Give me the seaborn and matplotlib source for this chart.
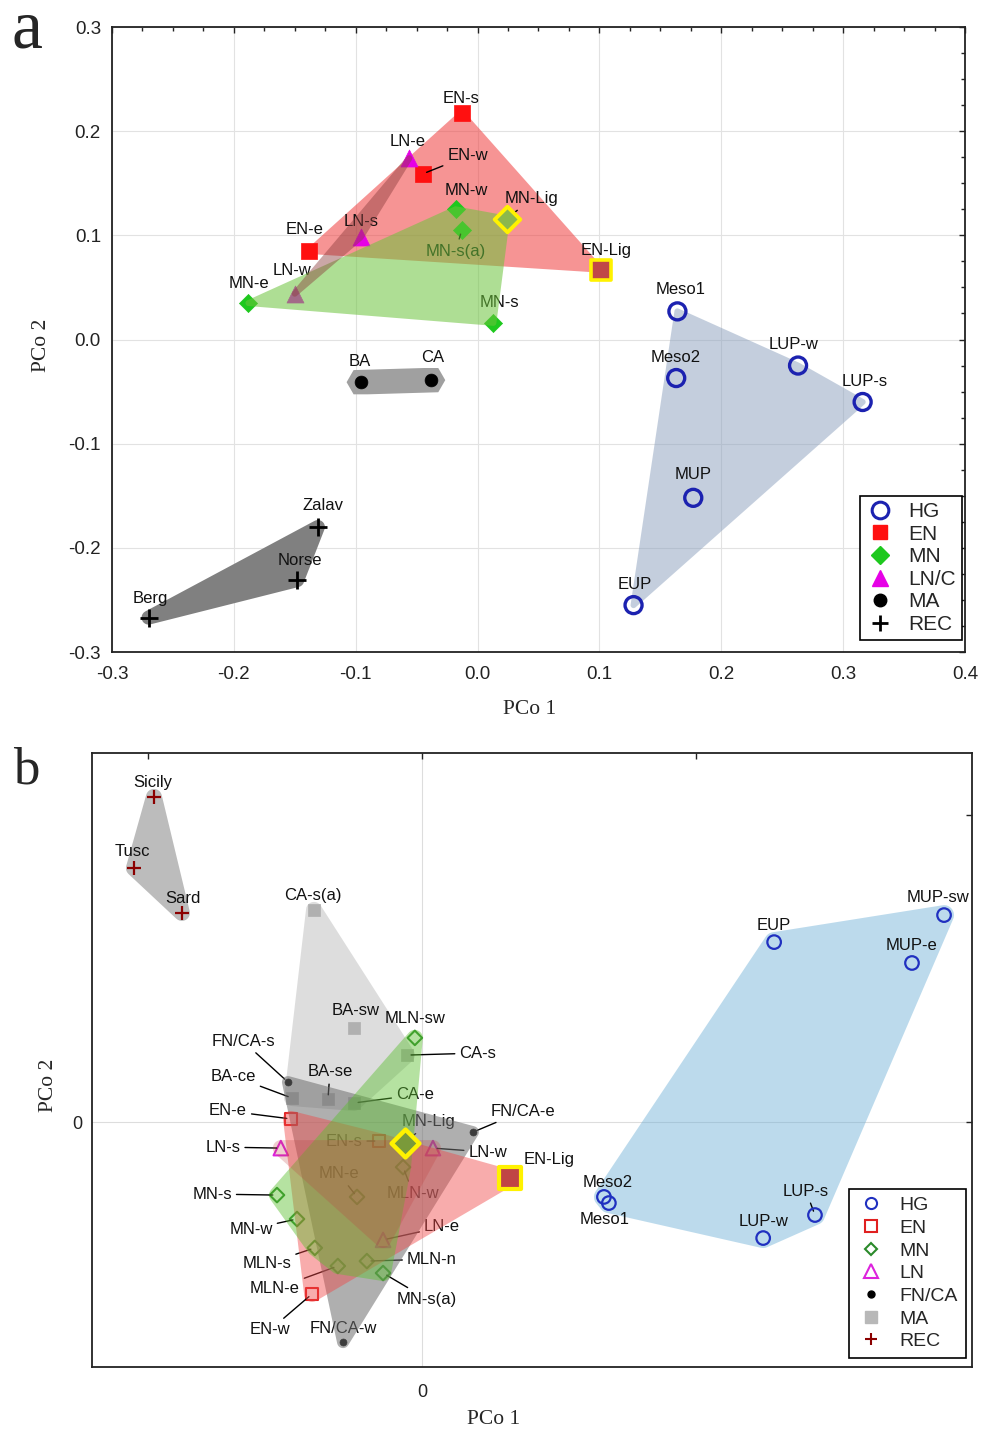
import numpy as np
import pandas as pd
import seaborn as sns
import matplotlib.pyplot as plt
from matplotlib.lines import Line2D
from matplotlib.ticker import MultipleLocator, FuncFormatter, FixedLocator

sns.set_style("white")
plt.rcParams['font.family'] = ['Liberation Sans', 'DejaVu Sans']
plt.rcParams['axes.unicode_minus'] = False

# ---------------- panel a data ----------------
a_hg_names = ['Meso1', 'Meso2', 'LUP-w', 'LUP-s', 'MUP', 'EUP']
a_hg_x = [0.164, 0.163, 0.263, 0.316, 0.177, 0.128]
a_hg_y = [0.027, -0.037, -0.025, -0.060, -0.152, -0.255]

a_en_names = ['EN-s', 'EN-w', 'EN-e', 'EN-Lig']
a_en_x = [-0.013, -0.045, -0.138, 0.101]
a_en_y = [0.217, 0.159, 0.085, 0.067]

a_mn_names = ['MN-w', 'MN-s(a)', 'MN-Lig', 'MN-e', 'MN-s']
a_mn_x = [-0.018, -0.013, 0.024, -0.188, 0.013]
a_mn_y = [0.125, 0.105, 0.116, 0.035, 0.016]

a_ln_names = ['LN-e', 'LN-s', 'LN-w']
a_ln_x = [-0.056, -0.096, -0.150]
a_ln_y = [0.174, 0.098, 0.044]

a_ma_names = ['BA', 'CA']
a_ma_x = [-0.096, -0.038]
a_ma_y = [-0.041, -0.039]

a_rec_names = ['Zalav', 'Norse', 'Berg']
a_rec_x = [-0.131, -0.148, -0.270]
a_rec_y = [-0.180, -0.231, -0.267]

a_legend_labels = ['HG', 'EN', 'MN', 'LN/C', 'MA', 'REC']

# ---------------- panel b data ----------------
b_hg_names = ['EUP', 'MUP-sw', 'MUP-e', 'Meso2', 'Meso1', 'LUP-s', 'LUP-w']
b_hg_x = [0.1285, 0.1905, 0.1788, 0.0664, 0.0682, 0.1434, 0.1245]
b_hg_y = [0.0586, 0.0674, 0.0518, -0.0244, -0.0264, -0.0303, -0.0378]

b_en_names = ['EN-e', 'EN-s', 'EN-Lig', 'EN-w']
b_en_x = [-0.0478, -0.0157, 0.0321, -0.0401]
b_en_y = [0.0010, -0.0062, -0.0182, -0.0560]

b_mn_names = ['MLN-sw', 'MN-Lig', 'MLN-w', 'MN-e', 'MN-s', 'MN-w',
              'MLN-s', 'MLN-n', 'MN-s(a)', 'MLN-e']
b_mn_x = [-0.0026, -0.0062, -0.0069, -0.0237, -0.0529, -0.0456,
          -0.0391, -0.0201, -0.0142, -0.0307]
b_mn_y = [0.0274, -0.0068, -0.0147, -0.0244, -0.0238, -0.0316,
          -0.0410, -0.0453, -0.0492, -0.0469]

b_ln_names = ['LN-s', 'LN-w', 'LN-e']
b_ln_x = [-0.0515, 0.0040, -0.0142]
b_ln_y = [-0.0085, -0.0085, -0.0384]

b_fnca_names = ['FN/CA-s', 'FN/CA-e', 'FN/CA-w']
b_fnca_x = [-0.0489, 0.0186, -0.0288]
b_fnca_y = [0.0130, -0.0033, -0.0717]

b_ma_names = ['CA-s(a)', 'BA-sw', 'CA-s', 'BA-ce', 'BA-se', 'CA-e']
b_ma_x = [-0.0394, -0.0248, -0.0055, -0.0474, -0.0343, -0.0248]
b_ma_y = [0.0691, 0.0306, 0.0218, 0.0078, 0.0075, 0.0062]

b_rec_names = ['Sicily', 'Tusc', 'Sard']
b_rec_x = [-0.0978, -0.1051, -0.0876]
b_rec_y = [0.1059, 0.0827, 0.0681]

b_legend_labels = ['HG', 'EN', 'MN', 'LN', 'FN/CA', 'MA', 'REC']

# label placement (pixel offsets from the point) and which ones get a leader line
a_offsets = {'EN-s': (-1, 15), 'EN-w': (45, 18), 'EN-e': (-5, 21), 'EN-Lig': (5, 19),
             'LN-e': (-2, 17), 'LN-s': (1, 16), 'LN-w': (-3, 23), 'MN-w': (11, 19),
             'MN-s(a)': (-6, -21), 'MN-Lig': (25, 20), 'MN-e': (0, 20), 'MN-s': (6, 20),
             'BA': (-1, 21), 'CA': (1, 23), 'Zalav': (5, 21), 'Norse': (3, 20),
             'Berg': (2, 19), 'Meso1': (3, 22), 'Meso2': (-1, 21), 'LUP-w': (-4, 21),
             'LUP-s': (2, 21), 'MUP': (0, 23), 'EUP': (1, 21)}
a_leaders = {'EN-w', 'MN-s(a)', 'MN-Lig'}

b_offsets = {'Sicily': (-1, 14), 'Tusc': (-2, 17), 'Sard': (1, 14), 'CA-s(a)': (-1, 14),
             'BA-sw': (2, 18), 'MLN-sw': (0, 19), 'CA-s': (71, 2), 'FN/CA-s': (-45, 41),
             'BA-ce': (-59, 22), 'BA-se': (2, 27), 'CA-e': (61, 8), 'EN-e': (-63, 8),
             'FN/CA-e': (50, 21), 'MN-Lig': (24, 21), 'EN-s': (-35, 0), 'LN-s': (-58, 1),
             'LN-w': (55, -4), 'EN-Lig': (39, 18), 'MN-e': (-18, 23), 'MLN-w': (10, -26),
             'MN-s': (-65, 1), 'MN-w': (-46, -10), 'LN-e': (59, 13), 'MLN-s': (-48, -16),
             'MLN-n': (65, 2), 'MLN-e': (-63, -23), 'MN-s(a)': (44, -26), 'EN-w': (-42, -36),
             'FN/CA-w': (0, 14), 'EUP': (0, 17), 'MUP-sw': (-6, 18), 'MUP-e': (0, 17),
             'Meso2': (4, 14), 'Meso1': (-4, -16), 'LUP-s': (-9, 24), 'LUP-w': (0, 17)}
b_leaders = {'CA-s', 'FN/CA-s', 'BA-ce', 'BA-se', 'CA-e', 'EN-e', 'FN/CA-e', 'MN-Lig',
             'EN-s', 'LN-s', 'LN-w', 'MN-e', 'MLN-w', 'MN-s', 'MN-w', 'LN-e', 'MLN-s',
             'MLN-n', 'MLN-e', 'MN-s(a)', 'EN-w', 'LUP-s'}


def convex_hull(pts):
    pts = sorted(map(tuple, pts))

    def cross(o, a, b):
        return (a[0] - o[0]) * (b[1] - o[1]) - (a[1] - o[1]) * (b[0] - o[0])
    lower, upper = [], []
    for p in pts:
        while len(lower) >= 2 and cross(lower[-2], lower[-1], p) <= 0:
            lower.pop()
        lower.append(p)
    for p in reversed(pts):
        while len(upper) >= 2 and cross(upper[-2], upper[-1], p) <= 0:
            upper.pop()
        upper.append(p)
    return np.array(lower[:-1] + upper[:-1])


def padded_hull(ax, xs, ys, pad, n=24):
    pts = ax.transData.transform(np.column_stack([xs, ys]))
    ang = np.linspace(0, 2 * np.pi, n, endpoint=False)
    ring = (pts[:, None, :] + pad * np.stack([np.cos(ang), np.sin(ang)], axis=1)[None]).reshape(-1, 2)
    return ax.transData.inverted().transform(convex_hull(ring))


def draw_group(ax, names, xs, ys, st, offsets, leaders, fs):
    df = pd.DataFrame({'x': xs, 'y': ys, 'name': names})
    reg = df[~df['name'].str.endswith('Lig')]
    lig = df[df['name'].str.endswith('Lig')]
    kw = dict(marker=st['marker'], s=st['s'], color=st['ec'], edgecolor=st['ec'],
              linewidth=st['lw'], zorder=st.get('z', 2), legend=False, ax=ax)
    if st['marker'] != '+':
        kw['facecolor'] = st['fc']
    sns.scatterplot(data=reg, x='x', y='y', **kw)
    if len(lig):
        sns.scatterplot(data=lig, x='x', y='y', marker=st['marker'], s=st['lig_s'],
                        color=st['lig_fc'], facecolor=st['lig_fc'], edgecolor='#fff200',
                        linewidth=st['lig_lw'], zorder=5, legend=False, ax=ax)
    for n, x, y in zip(names, xs, ys):
        dx, dy = offsets[n]
        arrow = dict(arrowstyle='-', color='black', lw=1.0, shrinkA=1, shrinkB=3) if n in leaders else None
        ax.annotate(n, xy=(x, y), xytext=(dx, dy), textcoords='offset pixels',
                    ha='center', va='center', fontsize=fs, color='#111111',
                    zorder=2, arrowprops=arrow)
    if st.get('hull'):
        hx = padded_hull(ax, xs, ys, st['pad'], st.get('nside', 24))
        ax.fill(hx[:, 0], hx[:, 1], color=st['hull'], alpha=st['alpha'], lw=0,
                zorder=st['hz'])


fig = plt.figure(figsize=(9.81, 14.29), dpi=100)

# ================= panel a =================
ax = fig.add_axes([112 / 981, 1 - 652 / 1429, 853 / 981, 625 / 1429])
ax.set_xlim(-0.3, 0.4)
ax.set_ylim(-0.3, 0.3)

a_styles = {
    'HG': dict(marker='o', s=150, fc='none', ec='#1c22b0', lw=2.4, z=4,
               hull='#8a9fbd', alpha=0.5, pad=3, hz=1.8),
    'EN': dict(marker='s', s=120, fc='#ff1010', ec='#ff1010', lw=0.5,
               lig_s=190, lig_fc='#c04848', lig_lw=2.6,
               hull='#f03c3c', alpha=0.55, pad=3, hz=1.8),
    'MN': dict(marker='D', s=85, fc='#1ec81e', ec='#1ec81e', lw=0.5,
               lig_s=170, lig_fc='#8cb84c', lig_lw=2.8,
               hull='#6cc43c', alpha=0.55, pad=3, hz=3.1),
    'LN': dict(marker='^', s=150, fc='#e600e6', ec='#e600e6', lw=0.5,
               hull='#8c3c3c', alpha=0.45, pad=3, hz=3.2),
    'MA': dict(marker='o', s=85, fc='black', ec='black', lw=0.5, z=4,
               hull='#a0a0a0', alpha=1.0, pad=14, nside=6, hz=1.5),
    'REC': dict(marker='+', s=150, fc='black', ec='black', lw=2.0, z=4,
                hull='#808080', alpha=1.0, pad=7, hz=1.5),
}
a_groups = [('HG', a_hg_names, a_hg_x, a_hg_y), ('EN', a_en_names, a_en_x, a_en_y),
            ('MN', a_mn_names, a_mn_x, a_mn_y), ('LN', a_ln_names, a_ln_x, a_ln_y),
            ('MA', a_ma_names, a_ma_x, a_ma_y), ('REC', a_rec_names, a_rec_x, a_rec_y)]
for g, n, x, y in a_groups:
    draw_group(ax, n, x, y, a_styles[g], a_offsets, a_leaders, 12)

ax.xaxis.set_major_locator(MultipleLocator(0.1))
ax.yaxis.set_major_locator(MultipleLocator(0.1))
ax.xaxis.set_minor_locator(MultipleLocator(0.025))
ax.yaxis.set_minor_locator(MultipleLocator(0.025))
ax.grid(True, which='major', color='#e2e2e2', lw=0.8)
ax.set_axisbelow(True)
ax.tick_params(which='both', direction='in', top=True, right=True, width=1, colors='#222222')
ax.tick_params(which='major', length=4.5, labelsize=13.5)
ax.tick_params(which='minor', length=3)
ax.tick_params(axis='x', pad=10)
ax.tick_params(axis='y', pad=8)
for sp in ax.spines.values():
    sp.set_linewidth(1.3)
    sp.set_color('#222222')
ax.set_xlabel('PCo 1', family='Liberation Serif', fontsize=15.5)
ax.set_ylabel('PCo 2', family='Liberation Serif', fontsize=15.5)
ax.xaxis.set_label_coords(0.49, -0.077)
ax.yaxis.set_label_coords(-0.071, 0.491)

a_handles = [
    Line2D([], [], ls='none', marker='o', ms=12, mfc='none', mec='#1c22b0', mew=2.2),
    Line2D([], [], ls='none', marker='s', ms=10, mfc='#ff1010', mec='#ff1010'),
    Line2D([], [], ls='none', marker='D', ms=9.5, mfc='#1ec81e', mec='#1ec81e'),
    Line2D([], [], ls='none', marker='^', ms=12, mfc='#e600e6', mec='#e600e6'),
    Line2D([], [], ls='none', marker='o', ms=9, mfc='black', mec='black'),
    Line2D([], [], ls='none', marker='+', ms=12, mec='black', mew=2),
]
leg = ax.legend(a_handles, a_legend_labels, loc='lower right', bbox_to_anchor=(0.9965, 0.019),
                borderaxespad=0, fontsize=15, fancybox=False, framealpha=1, edgecolor='black',
                handlelength=1.3, handletextpad=0.7, labelspacing=0.17, borderpad=0.3)
leg.get_frame().set_linewidth(1.2)
leg.set_zorder(10)

# ================= panel b =================
bx = fig.add_axes([92 / 981, 1 - 1367 / 1429, 880 / 981, 614 / 1429])
bx.set_xlim(-0.1204, 0.2007)
bx.set_ylim(-0.0798, 0.1202)

b_styles = {
    'MA': dict(marker='s', s=75, fc='#b0b0b0', ec='#b0b0b0', lw=0.5,
               hull='#c2c2c2', alpha=0.55, pad=8, hz=1.8),
    'FNCA': dict(marker='o', s=25, fc='black', ec='black', lw=0.5,
                 hull='#6e6e6e', alpha=0.55, pad=6, hz=3.1),
    'EN': dict(marker='s', s=80, fc='none', ec='#e02020', lw=1.5,
               lig_s=240, lig_fc='#c04545', lig_lw=3.0,
               hull='#f04848', alpha=0.45, pad=8, hz=3.2),
    'MN': dict(marker='D', s=55, fc='none', ec='#2a8a2a', lw=1.5,
               lig_s=200, lig_fc='#7a9a3a', lig_lw=3.2,
               hull='#5cbf30', alpha=0.45, pad=8, hz=3.3),
    'LN': dict(marker='^', s=110, fc='none', ec='#dd22dd', lw=1.5,
               hull='#c04040', alpha=0.25, pad=8, hz=3.4),
    'HG': dict(marker='o', s=95, fc='none', ec='#2030c0', lw=1.6, z=4,
               hull='#6baed6', alpha=0.45, pad=10, hz=1.8),
    'REC': dict(marker='+', s=95, fc='#8b0000', ec='#8b0000', lw=1.6, z=4,
                hull='#a0a0a0', alpha=0.7, pad=8, hz=1.8),
}
b_groups = [('MA', b_ma_names, b_ma_x, b_ma_y), ('FNCA', b_fnca_names, b_fnca_x, b_fnca_y),
            ('EN', b_en_names, b_en_x, b_en_y), ('MN', b_mn_names, b_mn_x, b_mn_y),
            ('LN', b_ln_names, b_ln_x, b_ln_y), ('HG', b_hg_names, b_hg_x, b_hg_y),
            ('REC', b_rec_names, b_rec_x, b_rec_y)]
for g, n, x, y in b_groups:
    draw_group(bx, n, x, y, b_styles[g], b_offsets, b_leaders, 12)

bx.axvline(0, color='#dddddd', lw=0.8, zorder=0)
bx.axhline(0, color='#dddddd', lw=0.8, zorder=0)
bx.xaxis.set_major_locator(FixedLocator([-0.1, 0.0, 0.1]))
bx.yaxis.set_major_locator(FixedLocator([0.0, 0.1]))
zero_only = FuncFormatter(lambda v, p: '0' if abs(v) < 1e-9 else '')
bx.xaxis.set_major_formatter(zero_only)
bx.yaxis.set_major_formatter(zero_only)
bx.tick_params(direction='in', top=True, right=True, length=4, width=1,
               labelsize=13, colors='#222222')
bx.tick_params(axis='x', pad=12)
bx.tick_params(axis='y', pad=7)
for sp in bx.spines.values():
    sp.set_linewidth(1.3)
    sp.set_color('#222222')
bx.set_xlabel('PCo 1', family='Liberation Serif', fontsize=15.5)
bx.set_ylabel('PCo 2', family='Liberation Serif', fontsize=15.5)
bx.xaxis.set_label_coords(0.456, -0.070)
bx.yaxis.set_label_coords(-0.039, 0.458)

b_handles = [
    Line2D([], [], ls='none', marker='o', ms=8, mfc='none', mec='#2030c0', mew=1.5),
    Line2D([], [], ls='none', marker='s', ms=8, mfc='none', mec='#e02020', mew=1.5),
    Line2D([], [], ls='none', marker='D', ms=6.5, mfc='none', mec='#2a8a2a', mew=1.5),
    Line2D([], [], ls='none', marker='^', ms=10, mfc='none', mec='#dd22dd', mew=1.5),
    Line2D([], [], ls='none', marker='o', ms=5, mfc='black', mec='black'),
    Line2D([], [], ls='none', marker='s', ms=8.5, mfc='#b8b8b8', mec='#b8b8b8'),
    Line2D([], [], ls='none', marker='+', ms=9, mec='#8b0000', mew=1.5),
]
leg = bx.legend(b_handles, b_legend_labels, loc='lower right', bbox_to_anchor=(0.9932, 0.0147),
                borderaxespad=0, fontsize=14, fancybox=False, framealpha=1, edgecolor='black',
                handlelength=1.4, handletextpad=0.8, labelspacing=0.26, borderpad=0.4)
leg.get_frame().set_linewidth(1.2)
leg.set_zorder(10)

fig.text(12 / 981, 1 - 47 / 1429, 'a', family='Liberation Serif', fontsize=50, va='baseline')
fig.text(13 / 981, 1 - 783 / 1429, 'b', family='Liberation Serif', fontsize=38, va='baseline')

fig.savefig('out.png', dpi=100)
